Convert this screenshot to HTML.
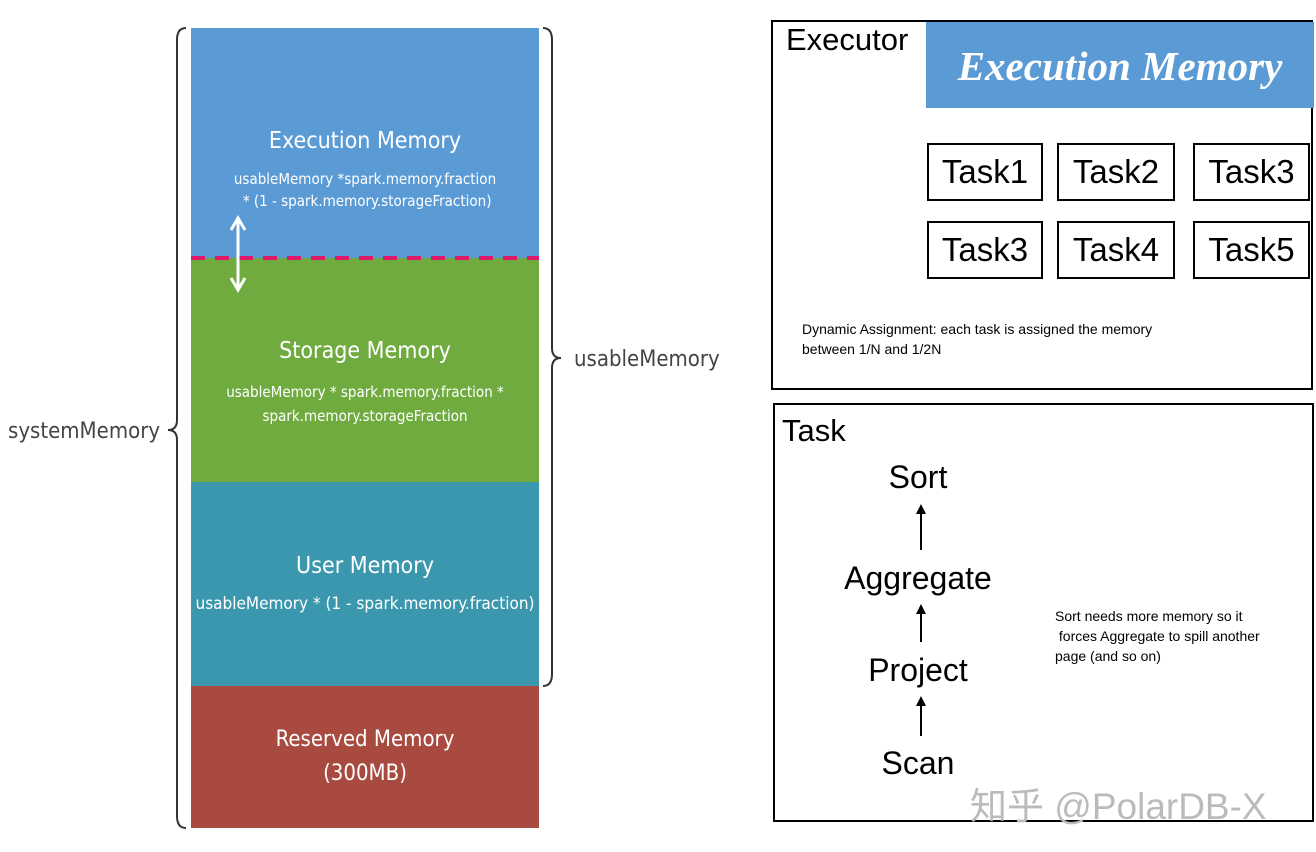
<!DOCTYPE html>
<html><head><style>
body{margin:0;width:1316px;height:852px;background:#fff;position:relative;overflow:hidden;font-family:"Liberation Sans",sans-serif}
.a{position:absolute}
.c{color:#fff;text-align:center;font-family:"Comic Sans MS","DejaVu Sans Condensed","Liberation Sans",sans-serif}
.t{position:absolute;border:2px solid #000;font-size:33px;text-align:center;box-sizing:border-box;line-height:54px}
</style></head><body>
<div class="a" style="left:191px;top:28px;width:348px;height:230px;background:#5b9bd5"></div>
<div class="a" style="left:191px;top:258px;width:348px;height:224px;background:#6fab3f"></div>
<div class="a" style="left:191px;top:482px;width:348px;height:204px;background:#3a97ae"></div>
<div class="a" style="left:191px;top:686px;width:348px;height:142px;background:#a84a40"></div>
<div class="a c" style="left:191px;width:348px;top:128px;font-size:23px">Execution Memory</div>
<div class="a c" style="left:191px;width:348px;top:168px;font-size:15px;line-height:22px">usableMemory *spark.memory.fraction<br>&nbsp;* (1 - spark.memory.storageFraction)</div>
<div class="a c" style="left:191px;width:348px;top:338px;font-size:23px">Storage Memory</div>
<div class="a c" style="left:191px;width:348px;top:380px;font-size:15px;line-height:24px">usableMemory * spark.memory.fraction *<br>spark.memory.storageFraction</div>
<div class="a c" style="left:191px;width:348px;top:553px;font-size:23px">User Memory</div>
<div class="a c" style="left:191px;width:348px;top:594px;font-size:17px">usableMemory * (1 - spark.memory.fraction)</div>
<div class="a c" style="left:191px;width:348px;top:723px;font-size:22px;line-height:34px">Reserved Memory<br>(300MB)</div>
<svg class="a" style="left:0;top:0" width="760" height="852">
<line x1="191" y1="258" x2="539" y2="258" stroke="#e0186a" stroke-width="4" stroke-dasharray="14,10"/>
<line x1="238" y1="220" x2="238" y2="288" stroke="#fff" stroke-width="3"/>
<polyline points="231,230 238,218 245,230" fill="none" stroke="#fff" stroke-width="3"/>
<polyline points="231,278 238,290 245,278" fill="none" stroke="#fff" stroke-width="3"/>
<path d="M186,28 Q177,28 177,40 L177,420 Q177,430 168,430 Q177,430 177,440 L177,816 Q177,828 186,828" fill="none" stroke="#333" stroke-width="2"/>
<path d="M543,28 Q552,28 552,40 L552,348 Q552,358 561,358 Q552,358 552,368 L552,674 Q552,686 543,686" fill="none" stroke="#333" stroke-width="2"/>
<text x="8" y="438" font-size="22" fill="#444" font-family="DejaVu Sans Condensed,sans-serif">systemMemory</text>
<text x="574" y="366" font-size="22" fill="#444" font-family="DejaVu Sans Condensed,sans-serif">usableMemory</text>
</svg>
<div class="a" style="left:771px;top:20px;width:542px;height:370px;border:2px solid #000;box-sizing:border-box"></div>
<div class="a" style="left:926px;top:22px;width:388px;height:86px;background:#5b9bd5"></div>
<div class="a" style="left:786px;top:22px;font-size:31px">Executor</div>
<div class="a" style="left:926px;top:42px;width:388px;text-align:center;color:#fff;font-family:'Liberation Serif',serif;font-style:italic;font-weight:bold;font-size:41px">Execution Memory</div>
<div class="t" style="left:927px;top:143px;width:116px;height:58px">Task1</div>
<div class="t" style="left:1057px;top:143px;width:118px;height:58px">Task2</div>
<div class="t" style="left:1193px;top:143px;width:117px;height:58px">Task3</div>
<div class="t" style="left:927px;top:221px;width:116px;height:58px">Task3</div>
<div class="t" style="left:1057px;top:221px;width:118px;height:58px">Task4</div>
<div class="t" style="left:1193px;top:221px;width:117px;height:58px">Task5</div>
<div class="a" style="left:802px;top:319px;font-size:14px;line-height:20px">Dynamic Assignment: each task is assigned the memory<br>between 1/N and 1/2N</div>
<div class="a" style="left:773px;top:403px;width:541px;height:419px;border:2px solid #000;box-sizing:border-box"></div>
<div class="a" style="left:782px;top:413px;font-size:31px">Task</div>
<div class="a" style="left:818px;width:200px;top:459px;text-align:center;font-size:32px">Sort</div>
<div class="a" style="left:818px;width:200px;top:560px;text-align:center;font-size:32px">Aggregate</div>
<div class="a" style="left:818px;width:200px;top:652px;text-align:center;font-size:32px">Project</div>
<div class="a" style="left:818px;width:200px;top:745px;text-align:center;font-size:32px">Scan</div>
<svg class="a" style="left:900px;top:500px" width="40" height="250">
<g stroke="#000" stroke-width="2"><line x1="21" y1="8" x2="21" y2="50"/><line x1="21" y1="108" x2="21" y2="142"/><line x1="21" y1="200" x2="21" y2="236"/></g>
<g fill="#000"><polygon points="16,14 21,4 26,14"/><polygon points="16,114 21,104 26,114"/><polygon points="16,206 21,196 26,206"/></g>
</svg>
<div class="a" style="left:1055px;top:606px;font-size:14px;line-height:20px">Sort needs more memory so it<br>&nbsp;forces Aggregate to spill another<br>page (and so on)</div>
<div class="a" style="left:970px;top:776px;font-size:37px;color:#bbb;font-family:'Liberation Sans','Noto Sans CJK SC',sans-serif">知乎 @PolarDB-X</div>
</body></html>
